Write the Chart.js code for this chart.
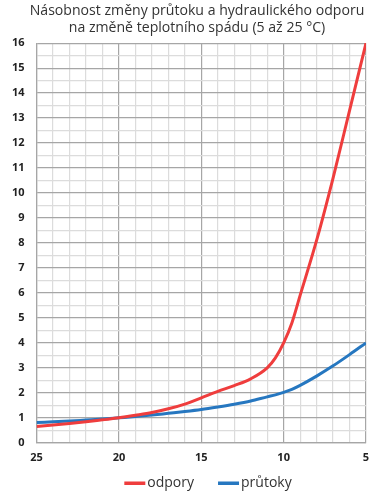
<!DOCTYPE html>
<html>
<head>
<meta charset="utf-8">
<script src="https://cdn.jsdelivr.net/npm/chart.js@4"></script>
<style>
html,body{margin:0;padding:0;background:#fff;}
#wrap{width:384px;height:503px;position:relative;}
</style>
</head>
<body>
<div id="wrap"><canvas id="c"></canvas></div>
<script>
const titleLines = ['Násobnost změny průtoku a hydraulického odporu', 'na změně teplotního spádu (5 až 25 °C)'];
const spad = [25, 24, 23, 22, 21, 20, 19, 18, 17, 16, 15, 14, 13, 12, 11, 10.5, 10, 9.5, 9, 8, 7, 6, 5];
const odpory = [0.65, 0.71, 0.77, 0.84, 0.92, 1.0, 1.1, 1.21, 1.36, 1.55, 1.8, 2.06, 2.29, 2.56, 3.0, 3.4, 4.0, 4.8, 5.9, 8.1, 10.6, 13.3, 16.0];
const prutoky = [0.81, 0.84, 0.87, 0.91, 0.95, 1.0, 1.05, 1.11, 1.18, 1.25, 1.33, 1.43, 1.54, 1.67, 1.84, 1.92, 2.02, 2.14, 2.3, 2.67, 3.08, 3.53, 4.0];
const seriesNames = ['odpory', 'průtoky'];
const xMajorTicks = [25, 20, 15, 10, 5];
const yMin = 0, yMax = 16;

const RED = '#ef3d3d', BLUE = '#2677c0';
const MAJOR = '#a6a6a6', MINOR = '#dcdcdc';

const toPts = arr => spad.map((x, i) => ({x: x, y: arr[i]}));

const shiftTitle = {
  id: 'shiftTitle',
  afterLayout(chart) {
    if (chart.titleBlock) { chart.titleBlock.left += 14; chart.titleBlock.right += 14; }
  }
};

// line-style legend drawn under the x axis
const lineLegend = {
  id: 'lineLegend',
  afterDraw(chart) {
    const ctx = chart.ctx;
    const font = '14px "Open Sans"';
    ctx.save();
    ctx.font = font;
    ctx.textBaseline = 'middle';
    ctx.textAlign = 'left';
    const seg = 21, gapText = 2, gapItem = 24;
    const items = chart.data.datasets.map(d => ({text: d.label, color: d.borderColor, w: ctx.measureText(d.label).width}));
    const total = items.reduce((s, it) => s + seg + gapText + it.w, 0) + gapItem * (items.length - 1);
    let x = chart.width / 2 + 16 - total / 2;
    const y = chart.height - 20;
    items.forEach(it => {
      ctx.fillStyle = it.color;
      ctx.fillRect(x, y - 1.5, seg, 3.5);
      x += seg + gapText;
      ctx.fillStyle = '#333';
      ctx.fillText(it.text, x, y);
      x += it.w + gapItem;
    });
    ctx.restore();
  }
};

new Chart(document.getElementById('c'), {
  type: 'line',
  data: {
    datasets: [
      {label: seriesNames[0], data: toPts(odpory), borderColor: RED, backgroundColor: RED, borderWidth: 3, pointRadius: 0, cubicInterpolationMode: 'monotone'},
      {label: seriesNames[1], data: toPts(prutoky), borderColor: BLUE, backgroundColor: BLUE, borderWidth: 3, pointRadius: 0, cubicInterpolationMode: 'monotone'}
    ]
  },
  plugins: [shiftTitle, lineLegend],
  options: {
    responsive: true,
    maintainAspectRatio: false,
    animation: false,
    layout: {padding: {left: 0, right: 18, top: 1, bottom: 31}},
    plugins: {
      title: {
        display: true, text: titleLines, color: '#333',
        font: {family: 'Open Sans', size: 14.1, weight: 'normal', lineHeight: 1.21},
        padding: {top: 1, bottom: 7}
      },
      legend: {display: false},
      tooltip: {enabled: false}
    },
    scales: {
      x: {
        type: 'linear', reverse: true, min: 5, max: 25,
        ticks: {
          stepSize: 1, autoSkip: false, maxRotation: 0, color: '#222', padding: 8,
          font: {family: 'Open Sans', size: 11, weight: 'bold'},
          callback: v => xMajorTicks.includes(v) ? String(v) : ''
        },
        grid: {color: c => (c.tick && c.tick.value % 5 === 0) ? MAJOR : MINOR, lineWidth: 1.2, drawTicks: false},
        border: {color: MAJOR, width: 1.2}
      },
      y: {
        min: yMin, max: yMax,
        ticks: {
          stepSize: 0.5, autoSkip: false, color: '#222', padding: 12,
          font: {family: 'Open Sans', size: 11, weight: 'bold'},
          callback: v => Number.isInteger(v) ? String(v) : ''
        },
        grid: {color: c => (c.tick && Number.isInteger(c.tick.value)) ? MAJOR : MINOR, lineWidth: 1.2, drawTicks: false},
        border: {color: MAJOR, width: 1.2}
      }
    }
  }
});
</script>
</body>
</html>
